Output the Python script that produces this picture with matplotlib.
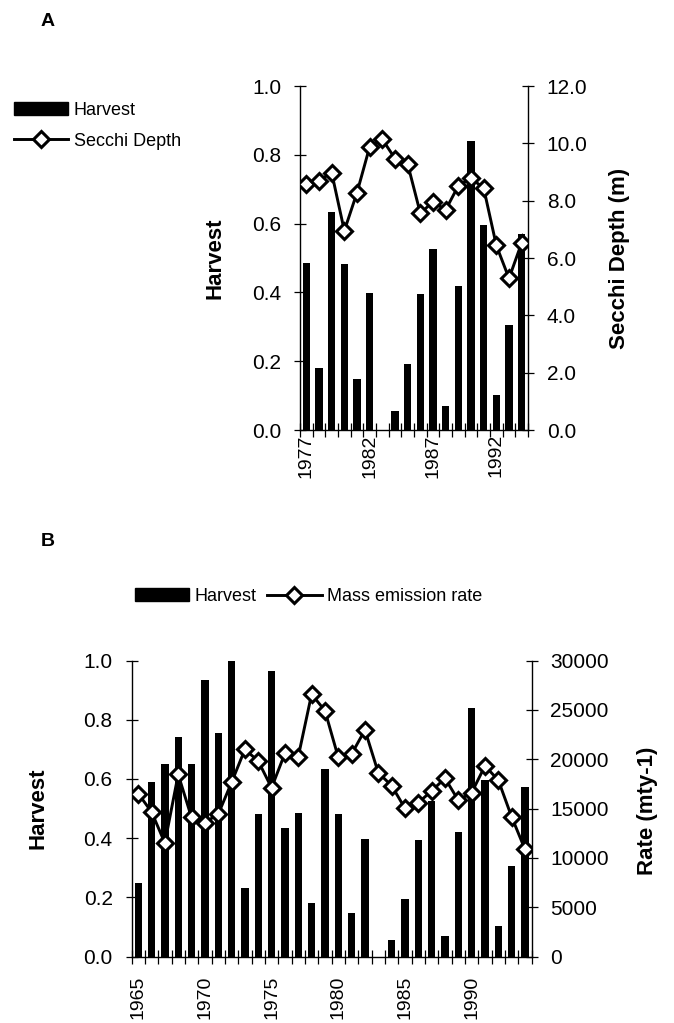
import numpy as np
import matplotlib
matplotlib.use("Agg")
import matplotlib.pyplot as plt
from matplotlib.patches import Patch
from matplotlib.lines import Line2D
from matplotlib.ticker import FixedLocator, FormatStrFormatter

plt.rcParams["font.family"] = ["Liberation Sans", "DejaVu Sans"]

# data
years = list(range(1965, 1995))
harvest = [0.25, 0.59, 0.65, 0.74, 0.65, 0.935, 0.755, 1.0, 0.23, 0.48,
           0.965, 0.435, 0.485, 0.18, 0.635, 0.483, 0.148, 0.397, 0.0, 0.056,
           0.193, 0.394, 0.527, 0.07, 0.42, 0.84, 0.595, 0.103, 0.306, 0.571]
mass_rate = [16520, 14660, 11510, 18450, 14090, 13580, 14420, 17640, 20990, 19810,
             17100, 20590, 20250, 26580, 24920, 20180, 20520, 22960, 18620, 17320,
             15020, 15590, 16780, 18070, 15830, 16610, 19320, 17860, 14140, 10850]

years_a = list(range(1977, 1995))
harvest_a = harvest[12:]
secchi = [8.57, 8.70, 8.98, 6.95, 8.28, 9.88, 10.14, 9.47, 9.28, 7.56,
          7.96, 7.68, 8.52, 8.78, 8.44, 6.44, 5.29, 6.53]

W, H = 674, 1023
fig = plt.figure(figsize=(W / 100, H / 100), dpi=100)


def px_axes(left, right, top, bottom):
    return fig.add_axes([left / W, 1 - bottom / H, (right - left) / W, (bottom - top) / H])


line_kw = dict(color="black", lw=2.1, marker="D", markersize=8,
               markerfacecolor="white", markeredgecolor="black", markeredgewidth=2.2)


def style_axes(ax, ax2, yrs, label_every_from, xpad):
    n = len(yrs)
    ax.set_xlim(-0.5, n - 0.5)
    for a in (ax, ax2):
        a.spines["top"].set_visible(False)
        for s in ("left", "right", "bottom"):
            a.spines[s].set_linewidth(1.0)
    ax.spines["right"].set_visible(False)
    ax2.spines["left"].set_visible(False)
    ax2.spines["bottom"].set_visible(False)
    ax.tick_params(axis="y", direction="inout", length=9, width=0.9, pad=9, labelsize=15)
    ax2.tick_params(axis="y", direction="inout", length=9, width=0.9, pad=9, labelsize=15)
    idx = [i for i, y in enumerate(yrs) if (y - label_every_from) % 5 == 0]
    ax.xaxis.set_major_locator(FixedLocator(idx))
    ax.set_xticklabels([str(yrs[i]) for i in idx], rotation=90, fontsize=14)
    ax.tick_params(axis="x", which="major", length=0, pad=xpad)
    ax.xaxis.set_minor_locator(FixedLocator(np.arange(-0.5, n, 1.0)))
    ax.tick_params(axis="x", which="minor", direction="inout", length=10, width=0.9)


# ---- Panel A ----
axA = px_axes(300, 528, 86, 430)
xa = np.arange(len(years_a))
axA.bar(xa, harvest_a, width=0.58, color="black")
axA.set_ylim(0, 1.0)
axA.set_yticks(np.arange(0, 1.01, 0.2))
axA.yaxis.set_major_formatter(FormatStrFormatter("%.1f"))
axA2 = axA.twinx()
axA2.plot(xa, secchi, **line_kw)
axA2.set_ylim(0, 12)
axA2.set_yticks(np.arange(0, 12.1, 2))
axA2.yaxis.set_major_formatter(FormatStrFormatter("%.1f"))
style_axes(axA, axA2, years_a, 1977, 3)

fig.text(215 / W, 1 - 258 / H, "Harvest", rotation=90, ha="center", va="center",
         fontsize=16, fontweight="bold")
fig.text(620 / W, 1 - 258 / H, "Secchi Depth (m)", rotation=90, ha="center", va="center",
         fontsize=16, fontweight="bold")
fig.text(48 / W, 1 - 21 / H, "A", ha="center", va="center", fontsize=14, fontweight="bold")

fig.legend([Patch(facecolor="black", edgecolor="black"), Line2D([], [], **line_kw)],
           ["Harvest", "Secchi Depth"], loc="upper left",
           bbox_to_anchor=(14 / W, 1 - 102 / H), frameon=False, fontsize=13,
           handlelength=3.0, handletextpad=0.3, labelspacing=0.75,
           borderpad=0, borderaxespad=0)

# ---- Panel B ----
axB = px_axes(131.5, 531.7, 660.5, 956.5)
xb = np.arange(len(years))
axB.bar(xb, harvest, width=0.55, color="black")
axB.set_ylim(0, 1.0)
axB.set_yticks(np.arange(0, 1.01, 0.2))
axB.yaxis.set_major_formatter(FormatStrFormatter("%.1f"))
axB2 = axB.twinx()
axB2.plot(xb, mass_rate, **line_kw)
axB2.set_ylim(0, 30000)
axB2.set_yticks(np.arange(0, 30001, 5000))
style_axes(axB, axB2, years, 1965, 14)

fig.text(38 / W, 1 - 808 / H, "Harvest", rotation=90, ha="center", va="center",
         fontsize=16, fontweight="bold")
fig.text(647 / W, 1 - 811 / H, "Rate (mty-1)", rotation=90, ha="center", va="center",
         fontsize=16, fontweight="bold")
fig.text(48 / W, 1 - 541 / H, "B", ha="center", va="center", fontsize=14, fontweight="bold")

fig.legend([Patch(facecolor="black", edgecolor="black"), Line2D([], [], **line_kw)],
           ["Harvest", "Mass emission rate"], loc="upper left", ncol=2,
           bbox_to_anchor=(135 / W, 1 - 588 / H), frameon=False, fontsize=13,
           handlelength=3.0, handletextpad=0.3, columnspacing=0.6,
           borderpad=0, borderaxespad=0)

fig.savefig("out.png", dpi=100)
